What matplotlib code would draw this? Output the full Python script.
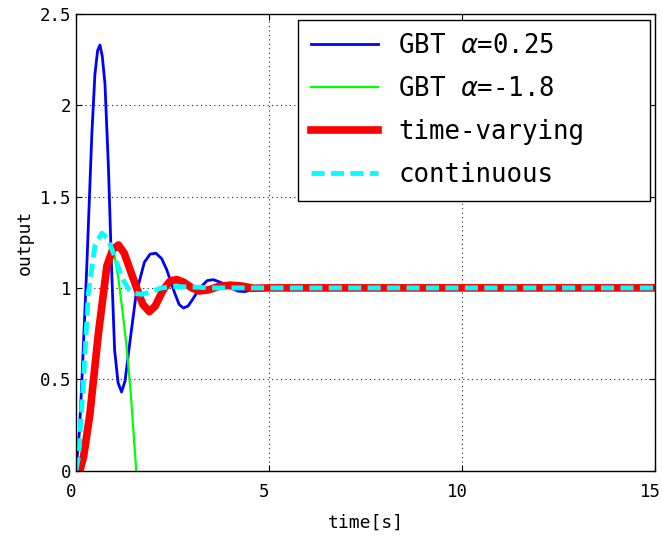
import numpy as np
import matplotlib
matplotlib.use('Agg')
import matplotlib.pyplot as plt
from matplotlib.transforms import ScaledTranslation

plt.rcParams['font.family'] = ['DejaVu Sans Mono']
plt.rcParams['mathtext.fontset'] = 'dejavusans'

# step responses (time [s], output)
t_gbt1 = [0, 0.09, 0.15, 0.28, 0.41, 0.49, 0.56, 0.62, 0.68, 0.75, 0.84, 0.92,
          1.0, 1.09, 1.18, 1.27, 1.40, 1.56, 1.77, 1.92, 2.07, 2.22, 2.35, 2.56,
          2.67, 2.78, 2.9, 3.0, 3.21, 3.4, 3.56, 3.75, 4.0, 4.2, 4.38, 4.55, 4.7, 15]
y_gbt1 = [0, 0.22, 0.48, 1.12, 1.84, 2.17, 2.30, 2.33, 2.27, 2.12, 1.66, 1.12,
          0.66, 0.48, 0.43, 0.49, 0.71, 0.97, 1.14, 1.185, 1.19, 1.16, 1.10, 0.97,
          0.91, 0.89, 0.90, 0.93, 1.0, 1.04, 1.045, 1.03, 1.0, 0.982, 0.98, 0.99, 1.0, 1.0]

t_gbt2 = [0, 0.1, 0.3, 0.5, 0.7, 0.85, 0.97, 1.1, 1.2, 1.31, 1.42, 1.56, 1.62]
y_gbt2 = [0, 0.0, 0.2, 0.58, 0.95, 1.15, 1.21, 1.05, 0.88, 0.68, 0.42, 0.0, -0.15]

t_tv = [0, 0.1, 0.2, 0.36, 0.58, 0.8, 0.95, 1.1, 1.25, 1.4, 1.57, 1.73, 1.9,
        2.05, 2.26, 2.45, 2.62, 2.8, 3.0, 3.2, 3.45, 3.7, 4.0, 4.3, 4.6, 5.0, 15]
y_tv = [0, 0, 0.08, 0.31, 0.75, 1.12, 1.21, 1.235, 1.19, 1.10, 1.0, 0.91, 0.87,
        0.90, 0.99, 1.04, 1.045, 1.03, 1.0, 0.983, 0.99, 1.008, 1.015, 1.01, 0.998, 1.0, 1.0]

t_ct = [0, 0.07, 0.19, 0.32, 0.49, 0.67, 0.82, 0.97, 1.1, 1.23, 1.38, 1.53, 1.7,
        1.9, 2.18, 2.5, 3.0, 3.5, 15]
y_ct = [0, 0.08, 0.48, 0.97, 1.23, 1.30, 1.27, 1.19, 1.11, 1.04, 0.99, 0.97, 0.965,
        0.975, 0.998, 1.008, 1.005, 1.0, 1.0]

fig = plt.figure(figsize=(6.62, 5.36), dpi=100)
ax = fig.add_axes([76/662, 1 - 470.5/536, 579/662, 456.5/536])

ax.plot(t_gbt1, y_gbt1, color='#0000ff', lw=2, label=r'GBT $\alpha$=0.25')
ax.plot(t_gbt2, y_gbt2, color='#00ff00', lw=1.6, label=r'GBT $\alpha$=-1.8')
ax.plot(t_tv, y_tv, color='#ff0000', lw=5.5, label='time-varying')
ax.plot(t_ct, y_ct, color='#00ffff', lw=3.5, ls=(0, (2.7, 1.3)), label='continuous')

ax.set_xlim(0, 15)
ax.set_ylim(0, 2.5)
ax.set_xticks([0, 5, 10, 15])
ax.set_yticks([0, 0.5, 1, 1.5, 2, 2.5])
ax.set_yticklabels(['0', '0.5', '1', '1.5', '2', '2.5'])
ax.tick_params(direction='in', top=True, right=True, labelsize=12.5, length=4)
ax.tick_params(axis='x', pad=9)
ax.grid(True, color='0.15', ls=(0, (1, 3)), lw=0.8)
for s in ax.spines.values():
    s.set_linewidth(1)

# nudge x tick labels a little to the left
shift = ScaledTranslation(-5/100, 0, fig.dpi_scale_trans)
for lab in ax.get_xticklabels():
    lab.set_transform(lab.get_transform() + shift)

ax.set_xlabel('time[s]', fontsize=13, labelpad=9)
ax.set_ylabel('output', fontsize=13)

leg = ax.legend(loc='upper left', bbox_to_anchor=(0.3834, 0.6, 0.608, 0.387),
                mode='expand', fontsize=18.5, frameon=True, fancybox=False,
                edgecolor='black', framealpha=1, borderaxespad=0,
                handlelength=2.6, handletextpad=0.8, labelspacing=0.66, borderpad=0.5)
leg.get_frame().set_linewidth(1)

fig.savefig('out.png', dpi=100)
